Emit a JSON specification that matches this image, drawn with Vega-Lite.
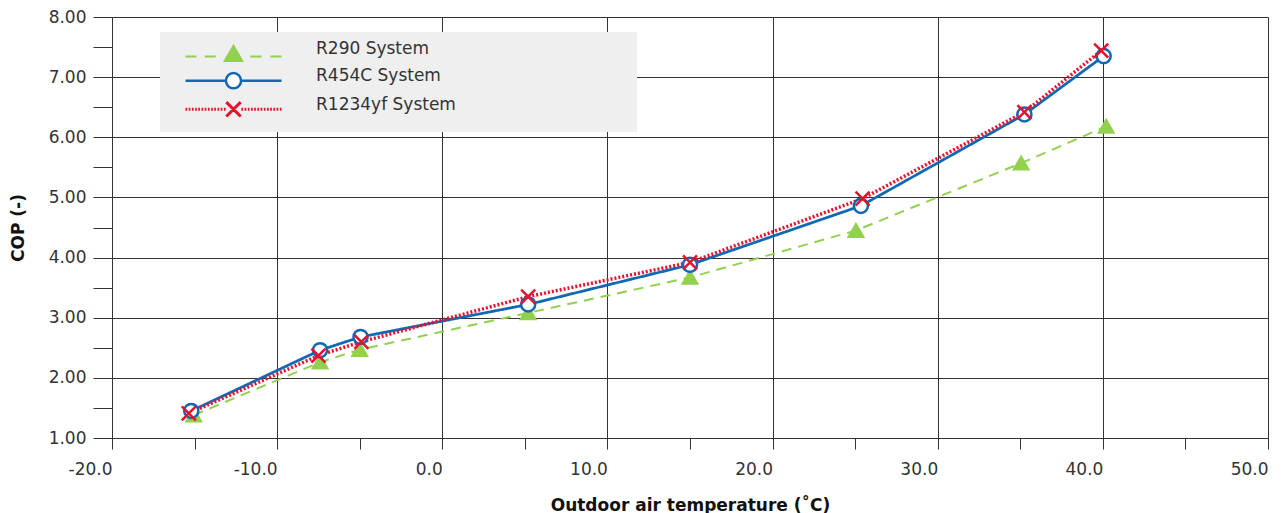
{
  "$schema": "https://vega.github.io/schema/vega-lite/v6.json",
  "width": 1156,
  "height": 421,
  "autosize": {"type": "none"},
  "padding": {"left": 112, "top": 17, "right": 14, "bottom": 75},
  "background": "white",
  "config": {
    "view": {"stroke": null},
    "font": "DejaVu Sans",
    "axis": {
      "domainColor": "#333333",
      "tickColor": "#333333",
      "gridColor": "#333333",
      "domainWidth": 1,
      "tickWidth": 1,
      "gridWidth": 1,
      "labelColor": "#333333",
      "labelFont": "DejaVu Sans",
      "labelFontSize": 17,
      "labelFlush": false,
      "labelOverlap": false,
      "labelBound": false,
      "titleFont": "DejaVu Sans",
      "titleFontSize": 17,
      "titleFontWeight": "bold",
      "titleColor": "#111111"
    },
    "legend": {
      "orient": "none",
      "legendX": 48,
      "legendY": 15,
      "fillColor": "#efefef",
      "strokeColor": null,
      "padding": 8,
      "symbolOffset": 56,
      "symbolSize": 256,
      "labelOffset": 73,
      "labelFont": "DejaVu Sans",
      "labelFontSize": 17,
      "labelColor": "#333333",
      "labelLimit": 600,
      "rowPadding": -9
    }
  },
  "data": {
    "values": [
      {"series": "R290 System", "temp": -15.05, "cop": 1.38},
      {"series": "R290 System", "temp": -7.4, "cop": 2.26},
      {"series": "R290 System", "temp": -5.0, "cop": 2.47},
      {"series": "R290 System", "temp": 5.2, "cop": 3.08},
      {"series": "R290 System", "temp": 15.0, "cop": 3.67},
      {"series": "R290 System", "temp": 25.05, "cop": 4.45},
      {"series": "R290 System", "temp": 35.05, "cop": 5.57},
      {"series": "R290 System", "temp": 40.2, "cop": 6.18},
      {"series": "R454C System", "temp": -15.2, "cop": 1.45},
      {"series": "R454C System", "temp": -7.4, "cop": 2.46},
      {"series": "R454C System", "temp": -4.95, "cop": 2.68},
      {"series": "R454C System", "temp": 5.2, "cop": 3.22},
      {"series": "R454C System", "temp": 15.0, "cop": 3.88},
      {"series": "R454C System", "temp": 25.35, "cop": 4.86},
      {"series": "R454C System", "temp": 35.25, "cop": 6.38},
      {"series": "R454C System", "temp": 40.05, "cop": 7.35},
      {"series": "R1234yf System", "temp": -15.35, "cop": 1.41},
      {"series": "R1234yf System", "temp": -7.5, "cop": 2.37},
      {"series": "R1234yf System", "temp": -4.9, "cop": 2.6},
      {"series": "R1234yf System", "temp": 5.2, "cop": 3.35},
      {"series": "R1234yf System", "temp": 15.0, "cop": 3.92},
      {"series": "R1234yf System", "temp": 25.45, "cop": 4.98},
      {"series": "R1234yf System", "temp": 35.25, "cop": 6.42},
      {"series": "R1234yf System", "temp": 39.9, "cop": 7.44}
    ]
  },
  "encoding": {
    "x": {
      "field": "temp",
      "type": "quantitative",
      "scale": {"domain": [-20, 50], "nice": false, "zero": false},
      "axis": {
        "title": "Outdoor air temperature (˚C)",
        "values": [-20, -15, -10, -5, 0, 5, 10, 15, 20, 25, 30, 35, 40, 45, 50],
        "labelExpr": "datum.value % 10 === 0 ? (datum.value < 0 ? '-' + format(-datum.value, '.1f') : format(datum.value, '.1f')) : ''",
        "labelAlign": "right",
        "tickSize": 11,
        "labelPadding": 12,
        "titlePadding": 20,
        "grid": true,
        "gridOpacity": {"condition": {"test": "datum.value % 10 !== 0", "value": 0}, "value": 1}
      }
    },
    "y": {
      "field": "cop",
      "type": "quantitative",
      "scale": {"domain": [1, 8], "nice": false, "zero": false},
      "axis": {
        "title": "COP (-)",
        "values": [1, 1.5, 2, 2.5, 3, 3.5, 4, 4.5, 5, 5.5, 6, 6.5, 7, 7.5, 8],
        "labelExpr": "datum.value % 1 === 0 ? format(datum.value, '.2f') : ''",
        "tickSize": 19,
        "labelPadding": 7,
        "titlePadding": 21,
        "grid": true,
        "gridOpacity": {"condition": {"test": "datum.value % 1 !== 0", "value": 0}, "value": 1}
      }
    }
  },
  "layer": [
    {
      "mark": {"type": "line", "clip": false},
      "encoding": {
        "color": {"field": "series", "type": "nominal", "scale": {"domain": ["R290 System", "R454C System", "R1234yf System"], "range": ["#92d050", "#0f68b4", "#e8102c"]}, "legend": null},
        "strokeDash": {"field": "series", "type": "nominal", "scale": {"domain": ["R290 System", "R454C System", "R1234yf System"], "range": [[10, 7], [1, 0], [2, 2]]}, "legend": null},
        "strokeWidth": {"field": "series", "type": "ordinal", "scale": {"domain": ["R290 System", "R454C System", "R1234yf System"], "range": [2, 3.5, 2]}, "legend": null}
      }
    },
    {
      "mark": {"type": "point", "opacity": 1, "strokeWidth": 2.5},
      "encoding": {
        "shape": {"field": "series", "type": "nominal", "scale": {"domain": ["R290 System", "R454C System", "R1234yf System"], "range": ["triangle-up", "circle", "M-1,-1L1,1M-1,1L1,-1"]}, "legend": null},
        "stroke": {"field": "series", "type": "nominal", "scale": {"domain": ["R290 System", "R454C System", "R1234yf System"], "range": ["#92d050", "#0f68b4", "#e8102c"]}, "legend": null},
        "fill": {"field": "series", "type": "nominal", "scale": {"domain": ["R290 System", "R454C System", "R1234yf System"], "range": ["#92d050", "#ffffff", "transparent"]}, "legend": null},
        "size": {"field": "series", "type": "ordinal", "scale": {"domain": ["R290 System", "R454C System", "R1234yf System"], "range": [200, 196, 150]}, "legend": null}
      }
    },
    {
      "transform": [{"filter": "false"}],
      "mark": {"type": "point", "opacity": 1},
      "encoding": {
        "shape": {"field": "series", "type": "nominal", "scale": {"domain": ["R290 System", "R454C System", "R1234yf System"], "range": [
          "M0,-1.6h0M0,1.6h0M-6,0.95H-4.62M-3.6,0.95H-2.22M2.1,0.95H3.5M4.62,0.95H6M0,-0.4L1.1,1.5L-1.1,1.5Z",
          "M0,-1.6h0M0,1.6h0M-6,0.65H-0.95M0.95,0.65H6M0.95,0.65A0.95,0.95,0,1,1,-0.95,0.65A0.95,0.95,0,1,1,0.95,0.65Z",
          "M0,-1.6h0M0,1.6h0M-6,0.6h0.21m0.19,0h0.21m0.19,0h0.21m0.19,0h0.21m0.19,0h0.21m0.19,0h0.21m0.19,0h0.21m0.19,0h0.21m0.19,0h0.21m0.19,0h0.21m0.19,0h0.21m0.19,0h0.21m0.19,0h0.21M0.99,0.6h0.21m0.19,0h0.21m0.19,0h0.21m0.19,0h0.21m0.19,0h0.21m0.19,0h0.21m0.19,0h0.21m0.19,0h0.21m0.19,0h0.21m0.19,0h0.21m0.19,0h0.21m0.19,0h0.21m0.19,0h0.21M-0.9,-0.3L0.9,1.5M-0.9,1.5L0.9,-0.3"
        ]}, "legend": {"title": null, "labelExpr": "datum.label + '\u00a0\u00a0\u00a0\u00a0\u00a0\u00a0\u00a0\u00a0\u00a0\u00a0\u00a0\u00a0\u00a0\u00a0\u00a0\u00a0\u00a0\u00a0\u00a0\u00a0\u00a0\u00a0\u00a0\u00a0\u00a0\u00a0\u00a0\u00a0\u00a0\u00a0\u00a0\u00a0\u200b'"}},
        "stroke": {"field": "series", "type": "nominal", "scale": {"domain": ["R290 System", "R454C System", "R1234yf System"], "range": ["#92d050", "#0f68b4", "#e8102c"]}, "legend": {"title": null, "labelExpr": "datum.label + '\u00a0\u00a0\u00a0\u00a0\u00a0\u00a0\u00a0\u00a0\u00a0\u00a0\u00a0\u00a0\u00a0\u00a0\u00a0\u00a0\u00a0\u00a0\u00a0\u00a0\u00a0\u00a0\u00a0\u00a0\u00a0\u00a0\u00a0\u00a0\u00a0\u00a0\u00a0\u00a0\u200b'"}},
        "fill": {"field": "series", "type": "nominal", "scale": {"domain": ["R290 System", "R454C System", "R1234yf System"], "range": ["#92d050", "#ffffff", "transparent"]}, "legend": {"title": null, "labelExpr": "datum.label + '\u00a0\u00a0\u00a0\u00a0\u00a0\u00a0\u00a0\u00a0\u00a0\u00a0\u00a0\u00a0\u00a0\u00a0\u00a0\u00a0\u00a0\u00a0\u00a0\u00a0\u00a0\u00a0\u00a0\u00a0\u00a0\u00a0\u00a0\u00a0\u00a0\u00a0\u00a0\u00a0\u200b'"}},
        "strokeWidth": {"field": "series", "type": "ordinal", "scale": {"domain": ["R290 System", "R454C System", "R1234yf System"], "range": [2, 3, 2.5]}, "legend": {"title": null, "labelExpr": "datum.label + '\u00a0\u00a0\u00a0\u00a0\u00a0\u00a0\u00a0\u00a0\u00a0\u00a0\u00a0\u00a0\u00a0\u00a0\u00a0\u00a0\u00a0\u00a0\u00a0\u00a0\u00a0\u00a0\u00a0\u00a0\u00a0\u00a0\u00a0\u00a0\u00a0\u00a0\u00a0\u00a0\u200b'"}}
      }
    }
  ],
  "resolve": {"scale": {"shape": "independent", "stroke": "independent", "fill": "independent", "strokeWidth": "independent", "size": "independent"}}
}
